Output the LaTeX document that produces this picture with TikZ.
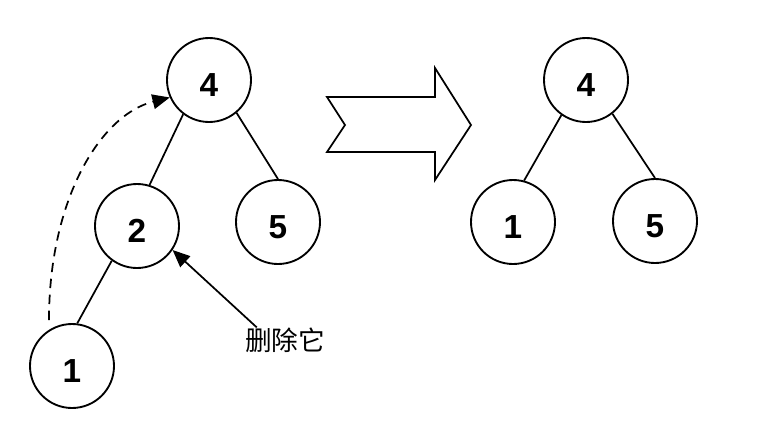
\documentclass[tikz,border=0pt]{standalone}
\usepackage{fontspec}
\setmainfont{Liberation Sans}
\newfontfamily\cjk{Noto Sans CJK SC}
\usetikzlibrary{arrows.meta}
\tikzset{key/.style={circle,draw=black,line width=1.4pt,minimum size=63pt,inner sep=0pt,font=\fontsize{25}{28}\selectfont\bfseries},
 link/.style={line width=1.3pt},
 arrow/.style={-{Triangle[length=13pt,width=11pt]},line width=1.3pt}}
\newcommand{\dig}[1]{\raisebox{-4pt}[\height][\depth]{#1}}

\begin{document}
\begin{tikzpicture}[x=0.75pt,y=-0.75pt]
 \useasboundingbox (0,0) rectangle (774,436);
 % before
 \node[key] (a4) at (209,80) {\dig{4}};
 \node[key] (a2) at (137,226) {\dig{2}};
 \node[key] (a5) at (278,222) {\dig{5}};
 \node[key] (a1) at (72,366) {\dig{1}};
 \draw[link] (a4.-127)--(a2.73);
 \draw[link] (a4.-50)--(a5.north);
 \draw[link] (a2.-126)--(a1.83);
 \coordinate (up) at (49,320);
 \draw[arrow,dash pattern=on 7pt off 5pt] (up) .. controls (49,200) and (100,115) .. (a4.204);
 \node[font=\cjk\fontsize{20}{24}\selectfont,inner sep=0pt] (del) at (285,340) {删除它};
 \draw[arrow] ([xshift=9]del.north west)--(a2.-34);
 % big arrow
 \draw[line width=1.3pt,line join=miter] (327,97)--(345,125)--(327,152)--(435,152)--(435,180)
  --(471,125)--(435,68)--(435,97)--cycle;
 % after
 \node[key] (b4) at (586,80) {\dig{4}};
 \node[key] (b1) at (513,222) {\dig{1}};
 \node[key] (b5) at (655,221) {\dig{5}};
 \draw[link] (b4.-125)--(b1.75);
 \draw[link] (b4.-52)--(b5.north);
\end{tikzpicture}
\end{document}
